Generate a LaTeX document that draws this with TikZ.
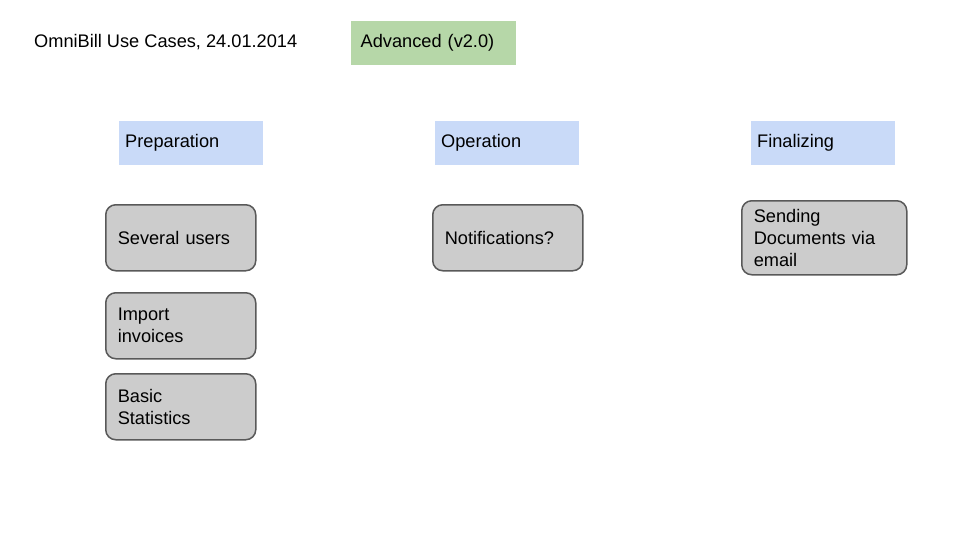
\documentclass[tikz,border=0pt]{standalone}
\usepackage{fontspec}
\setmainfont{Liberation Sans}
\definecolor{greenfill}{HTML}{B6D7A8}
\definecolor{bluefill}{HTML}{C9DAF8}
\definecolor{grayfill}{HTML}{CCCCCC}
\definecolor{grayline}{HTML}{595959}
\begin{document}
\begin{tikzpicture}[x=1pt,y=-1pt,
  txt/.style={font=\fontsize{18.2}{22}\selectfont},
  hdr/.style={txt,fill=bluefill,anchor=north west,minimum width=144pt,minimum height=44pt,inner xsep=6pt,inner ysep=0pt,text width=132pt,align=left},
  ver/.style={txt,fill=greenfill,anchor=north west,minimum width=165pt,minimum height=44pt,inner xsep=9.5pt,inner ysep=0pt,text width=146pt,align=left},
  uc/.style={txt,fill=grayfill,draw=grayline,line width=1.5pt,rounded corners=10pt,anchor=north west,inner xsep=12pt,inner ysep=0pt,align=left}]
\useasboundingbox (0,0) rectangle (960,540);
\node[txt,anchor=base west,inner sep=0pt] (title) at (34,48) {OmniBill Use Cases, 24.01.2014};
\node[ver] (adv) at (351,21) {Advanced (v2.0)};
\node[hdr] (prep) at (119,121) {Preparation};
\node[hdr] (oper) at (435,121) {Operation};
\node[hdr] (fin) at (751,121) {Finalizing};
\node[uc,minimum width=150pt,minimum height=66pt,text width=126pt] (users) at (105,204) {Several users};
\node[uc,minimum width=150pt,minimum height=66pt,text width=126pt] (import) at (105,292) {Import\\invoices};
\node[uc,minimum width=150pt,minimum height=66pt,text width=126pt] (stats) at (105,373) {Basic\\Statistics};
\node[uc,minimum width=150pt,minimum height=66pt,text width=126pt] (notif) at (432,204) {Notifications?};
\node[uc,minimum width=165pt,minimum height=74pt,text width=141pt] (send) at (741,200) {Sending\\Documents via\\email};
\end{tikzpicture}
\end{document}
